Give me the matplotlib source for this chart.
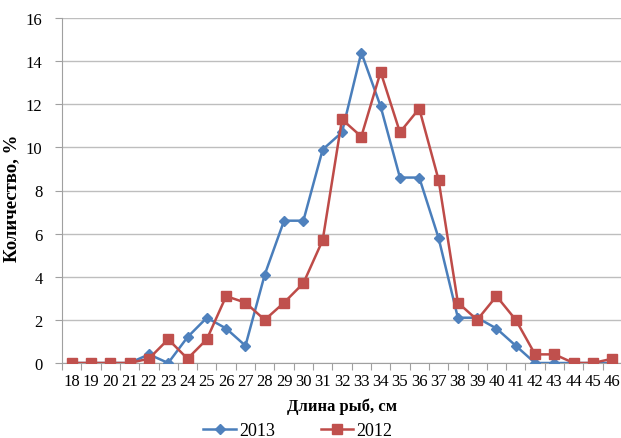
import numpy as np
import matplotlib.pyplot as plt
from matplotlib.lines import Line2D

# Fish length classes, cm
lengths = list(range(18, 47))

# Share of fish in each length class, %
share_2013 = [0, 0, 0, 0, 0.4, 0, 1.2, 2.1, 1.6, 0.8, 4.1, 6.6, 6.6, 9.9, 10.7,
              14.4, 11.9, 8.6, 8.6, 5.8, 2.1, 2.1, 1.6, 0.8, 0, 0, 0, 0, 0]
share_2012 = [0, 0, 0, 0, 0.2, 1.1, 0.2, 1.1, 3.1, 2.8, 2.0, 2.8, 3.7, 5.7, 11.3,
              10.5, 13.5, 10.7, 11.8, 8.5, 2.8, 2.0, 3.1, 2.0, 0.4, 0.4, 0, 0, 0.2]

blue = '#4A7EBB'
red = '#BE4B48'

plt.rcParams['font.family'] = ['Liberation Serif', 'DejaVu Serif']

fig = plt.figure(figsize=(6.21, 4.39), dpi=100)
ax = fig.add_axes([62 / 621, 1 - 364 / 439, 560 / 621, 345 / 439])

x = np.arange(len(lengths))
ax.plot(x, share_2013, color=blue, lw=1.8, marker='D', ms=5.5,
        mfc='#4F81BD', mec='#4F81BD', zorder=3)
ax.plot(x, share_2012, color=red, lw=1.8, marker='s', ms=7,
        mfc='#C0504D', mec='#C0504D', zorder=4)

ax.set_xlim(-0.5, len(lengths) - 0.5)
ax.set_ylim(0, 16)
ax.set_yticks(np.arange(0, 17, 2))
ax.grid(axis='y', color='#BEBEBE', lw=1)
ax.set_axisbelow(True)

# category labels centred, tick marks between categories
ax.set_xticks(x)
ax.set_xticklabels([str(v) for v in lengths])
ax.set_xticks(np.arange(-0.5, len(lengths)), minor=True)
ax.tick_params(axis='x', which='major', length=0, pad=7, labelsize=12)
ax.tick_params(axis='x', which='minor', length=5, color='#A0A0A0', width=0.8)
ax.tick_params(axis='y', length=5, color='#A0A0A0', width=0.8, pad=9,
               labelsize=12)

for side in ['top', 'right']:
    ax.spines[side].set_visible(False)
for side in ['left', 'bottom']:
    ax.spines[side].set_color('#A0A0A0')
    ax.spines[side].set_linewidth(0.8)

ax.set_xlabel('Длина рыб, см', fontsize=12, fontweight='bold', labelpad=6)
ax.set_ylabel('Количество, %', fontsize=13.5, fontweight='bold')
ax.yaxis.set_label_coords(-0.075, 0.48)

handles = [
    Line2D([], [], color=blue, lw=1.8, marker='D', ms=5.5,
           mfc='#4F81BD', mec='#4F81BD'),
    Line2D([], [], color=red, lw=1.8, marker='s', ms=7,
           mfc='#C0504D', mec='#C0504D'),
]
fig.legend(handles, ['2013', '2012'], loc='center',
           bbox_to_anchor=(298 / 621, 1 - 432 / 439), ncol=2, frameon=False,
           fontsize=13, handlelength=1.8, handletextpad=0.2,
           columnspacing=2.5, borderaxespad=0)

fig.savefig('out.png', dpi=100)
